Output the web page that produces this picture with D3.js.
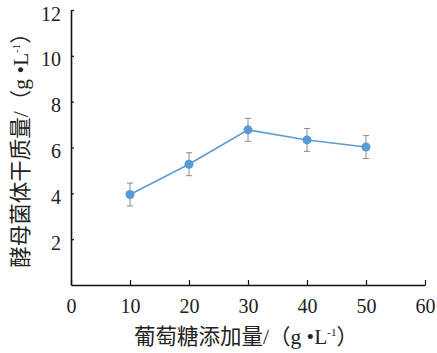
<!DOCTYPE html>
<html lang="zh">
<head>
<meta charset="utf-8" />
<title>葡萄糖添加量</title>
<script src="https://d3js.org/d3.v7.min.js"></script>
<style>
  body { margin: 0; background: #fff; }
  text { fill: #222; }
  .num { font-family: "Liberation Serif", "DejaVu Serif", serif; }
  .ttl { font-family: "Liberation Serif", "Noto Sans CJK SC", serif; }
</style>
</head>
<body>
<svg id="chart" width="437" height="353"></svg>
<script>
const glucose = [10, 20, 30, 40, 50];
const biomass = [3.95, 5.27, 6.77, 6.33, 6.02];
const errs = [0.5, 0.5, 0.5, 0.5, 0.5];
const xTicks = [0, 10, 20, 30, 40, 50, 60];
const yTicks = [2, 4, 6, 8, 10, 12];

const svg = d3.select("#chart");
const x = d3.scaleLinear().domain([0, 60]).range([71, 425]);
const y = d3.scaleLinear().domain([0, 12]).range([285, 10]);

// axes
const xAxis = svg.append("g")
  .attr("transform", "translate(0," + y(0) + ")")
  .call(d3.axisBottom(x).tickValues(xTicks).tickSizeInner(-5).tickSizeOuter(0).tickPadding(14));
const yAxis = svg.append("g")
  .attr("transform", "translate(" + x(0) + ",0)")
  .call(d3.axisLeft(y).tickValues(yTicks).tickSizeInner(-3).tickSizeOuter(0).tickPadding(10));

[xAxis, yAxis].forEach(g => {
  g.attr("font-family", null).attr("font-size", null);
  g.select(".domain").attr("stroke", "#111").attr("stroke-width", 1.6);
  g.selectAll(".tick line").attr("stroke", "#111").attr("stroke-width", 1.2);
  g.selectAll(".tick text").attr("class", "num").style("font-size", "20px").attr("fill", "#222");
});
// nudge the y labels down a little so "12" stays inside the frame
yAxis.selectAll(".tick text").attr("dy", "0.5em");

// line
svg.append("path")
  .datum(glucose.map((g, i) => [g, biomass[i]]))
  .attr("fill", "none")
  .attr("stroke", "#5b9bd5")
  .attr("stroke-width", 1.6)
  .attr("d", d3.line().x(d => x(d[0])).y(d => y(d[1])));

// error bars
const eb = svg.append("g").attr("stroke", "#8a8a8a").attr("stroke-width", 1);
glucose.forEach((g, i) => {
  const cx = x(g), top = y(biomass[i] + errs[i]), bot = y(biomass[i] - errs[i]);
  eb.append("line").attr("x1", cx).attr("x2", cx).attr("y1", top).attr("y2", bot);
  eb.append("line").attr("x1", cx - 3).attr("x2", cx + 3).attr("y1", top).attr("y2", top);
  eb.append("line").attr("x1", cx - 3).attr("x2", cx + 3).attr("y1", bot).attr("y2", bot);
});

// markers
svg.selectAll("circle.pt")
  .data(glucose)
  .enter().append("circle")
  .attr("class", "pt")
  .attr("cx", d => x(d))
  .attr("cy", (d, i) => y(biomass[i]))
  .attr("r", 4.5)
  .attr("fill", "#5b9bd5");

// axis titles
const xt = svg.append("text")
  .attr("class", "ttl")
  .attr("x", 246).attr("y", 344)
  .attr("text-anchor", "middle")
  .style("font-size", "21.5px");
xt.append("tspan").text("葡萄糖添加量/（g •L");
xt.append("tspan").style("font-size", "11px").attr("dy", -8).text("-1");
xt.append("tspan").attr("dy", 8).text("）");

const yt = svg.append("text")
  .attr("class", "ttl")
  .attr("transform", "translate(28,145) rotate(-90)")
  .attr("text-anchor", "middle")
  .style("font-size", "21.5px");
yt.append("tspan").text("酵母菌体干质量/（g •L");
yt.append("tspan").style("font-size", "11px").attr("dy", -8).text("-1");
yt.append("tspan").attr("dy", 8).text("）");
</script>
</body>
</html>
